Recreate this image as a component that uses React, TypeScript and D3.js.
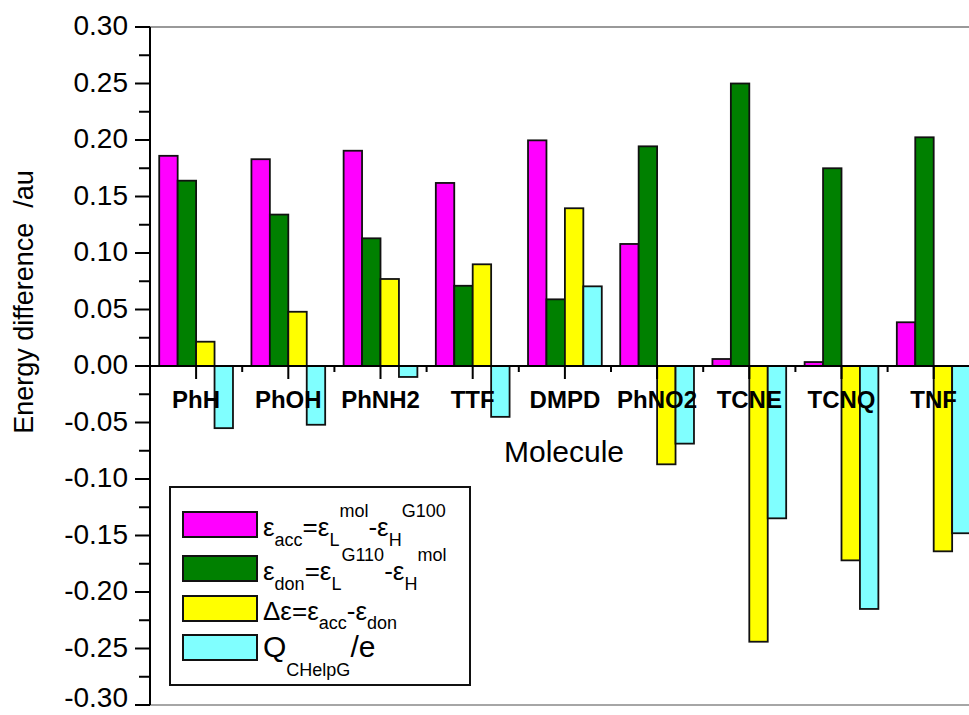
import React from "react";
import * as d3 from "d3";

const categories = ["PhH", "PhOH", "PhNH2", "TTF", "DMPD", "PhNO2", "TCNE", "TCNQ", "TNF"];
const eAcc = [0.186, 0.183, 0.1905, 0.162, 0.1997, 0.108, 0.0062, 0.0035, 0.0387];
const eDon = [0.164, 0.134, 0.113, 0.071, 0.059, 0.1944, 0.250, 0.175, 0.2024];
const deltaE = [0.0215, 0.048, 0.077, 0.090, 0.1396, -0.087, -0.244, -0.172, -0.164];
const qCHelpG = [-0.055, -0.052, -0.0097, -0.045, 0.0705, -0.0687, -0.1348, -0.215, -0.148];
const seriesKeys = ["acc", "don", "delta", "q"];
const seriesColors = ["#ff00ff", "#008000", "#ffff00", "#80ffff"];
const yTickLabels = ["-0.30", "-0.25", "-0.20", "-0.15", "-0.10", "-0.05", "0.00", "0.05", "0.10", "0.15", "0.20", "0.25", "0.30"];

const W = 969;
const H = 715;
const FONT = "Arial, 'Liberation Sans', Helvetica, sans-serif";

export default function App() {
  const series = [eAcc, eDon, deltaE, qCHelpG];
  const left = 150;
  const top = 27;
  const bottom = 705;
  const step = 92.2;
  const right = left + step * categories.length;

  const x = d3.scaleBand<string>().domain(categories).range([left, right]).padding(0);
  const xs = d3
    .scaleBand<string>()
    .domain(seriesKeys)
    .range([step * 0.1, step * 0.9])
    .padding(0);
  const y = d3.scaleLinear().domain([-0.3, 0.3]).range([bottom, top]);
  const y0 = y(0);

  const majorTicks = yTickLabels.map((t) => +t);
  const minorTicks = d3.range(0, 12).map((i) => -0.275 + i * 0.05);

  const legendTops = [512, 556, 596, 635];
  const sub = 18;

  return (
    <svg
      width={W}
      height={H}
      style={{ position: "absolute", left: 0, top: 0, background: "#fff" }}
      fontFamily={FONT}
    >
      <rect x={0} y={0} width={W} height={H} fill="#fff" />
      {/* frame lines */}
      <line x1={left} x2={W} y1={top} y2={top} stroke="#777" strokeWidth={1.5} />
      <line x1={left} x2={W} y1={bottom} y2={bottom} stroke="#888" strokeWidth={1.5} />

      {/* bars */}
      {categories.map((c, i) => (
        <g key={c}>
          {series.map((s, j) => {
            const v = s[i];
            const bx = (x(c) as number) + (xs(seriesKeys[j]) as number);
            const yy = v >= 0 ? y(v) : y0;
            const h = Math.abs(y(v) - y0);
            return (
              <rect
                key={j}
                x={bx}
                y={yy}
                width={xs.bandwidth()}
                height={h}
                fill={seriesColors[j]}
                stroke="#111"
                strokeWidth={1.8}
              />
            );
          })}
        </g>
      ))}

      {/* x axis */}
      <line x1={left} x2={W} y1={y0} y2={y0} stroke="#000" strokeWidth={2} />
      {categories.map((c) => {
        const cx = (x(c) as number) + step / 2;
        return (
          <g key={"t" + c}>
            <line x1={cx} x2={cx} y1={y0} y2={y0 + 13} stroke="#000" strokeWidth={2} />
            <line x1={(x(c) as number) + step} x2={(x(c) as number) + step} y1={y0} y2={y0 + 6} stroke="#000" strokeWidth={2} />
            <text x={cx} y={408} textAnchor="middle" fontSize={24} fontWeight="bold" fill="#000">
              {c}
            </text>
          </g>
        );
      })}

      {/* y axis */}
      <line x1={left} x2={left} y1={top} y2={bottom} stroke="#000" strokeWidth={2} />
      {majorTicks.map((t, i) => (
        <g key={"y" + i}>
          <line x1={left - 15} x2={left} y1={y(t)} y2={y(t)} stroke="#000" strokeWidth={2} />
          <text x={128} y={Math.min(y(t) + 8, 707)} textAnchor="end" fontSize={28} fill="#000">
            {yTickLabels[i]}
          </text>
        </g>
      ))}
      {minorTicks.map((t, i) => (
        <line key={"m" + i} x1={left - 11} x2={left} y1={y(t)} y2={y(t)} stroke="#000" strokeWidth={2} />
      ))}

      {/* axis titles */}
      <text
        transform={`translate(33,302) rotate(-90)`}
        textAnchor="middle"
        fontSize={27}
        fill="#000"
        style={{ whiteSpace: "pre" }}
      >
        {"Energy difference  /au"}
      </text>
      <text x={564} y={462} textAnchor="middle" fontSize={30} fill="#000">
        Molecule
      </text>

      {/* legend */}
      <rect x={170} y={487} width={300} height={198} fill="#fff" stroke="#111" strokeWidth={2} />
      {seriesColors.map((col, j) => (
        <rect key={"lg" + j} x={183} y={legendTops[j]} width={74} height={25} fill={col} stroke="#111" strokeWidth={2} />
      ))}
      <text x={263} y={legendTops[0] + 24} fontSize={26} fill="#000">
        ε<tspan dy={10} fontSize={sub}>acc</tspan>
        <tspan dy={-10}>=ε</tspan>
        <tspan dy={10} fontSize={sub}>L</tspan>
        <tspan dy={-29} fontSize={sub}>mol</tspan>
        <tspan dy={19}>-ε</tspan>
        <tspan dy={10} fontSize={sub}>H</tspan>
        <tspan dy={-29} fontSize={sub}>G100</tspan>
      </text>
      <text x={263} y={legendTops[1] + 24} fontSize={26} fill="#000">
        ε<tspan dy={10} fontSize={sub}>don</tspan>
        <tspan dy={-10}>=ε</tspan>
        <tspan dy={10} fontSize={sub}>L</tspan>
        <tspan dy={-29} fontSize={sub}>G110</tspan>
        <tspan dy={19}>-ε</tspan>
        <tspan dy={10} fontSize={sub}>H</tspan>
        <tspan dy={-29} fontSize={sub}>mol</tspan>
      </text>
      <text x={263} y={legendTops[2] + 24} fontSize={26} fill="#000">
        Δε=ε<tspan dy={9} fontSize={sub}>acc</tspan>
        <tspan dy={-9}>-ε</tspan>
        <tspan dy={9} fontSize={sub}>don</tspan>
      </text>
      <text x={263} y={legendTops[3] + 22} fontSize={30} fill="#000">
        Q<tspan dy={19} fontSize={sub}>CHelpG</tspan>
        <tspan dy={-19}>/e</tspan>
      </text>
    </svg>
  );
}
